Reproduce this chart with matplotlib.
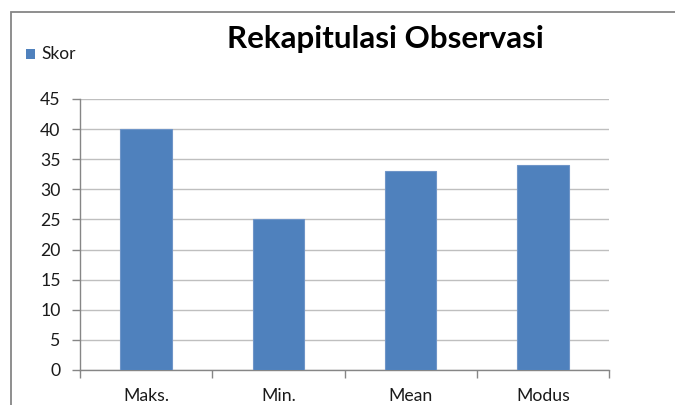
import matplotlib
matplotlib.use("Agg")
import matplotlib.pyplot as plt
from matplotlib.patches import Rectangle
import numpy as np

categories = ["Maks.", "Min.", "Mean", "Modus"]
skor = [40, 25, 33, 34]
yticks = [0, 5, 10, 15, 20, 25, 30, 35, 40, 45]
title = "Rekapitulasi Observasi"
series_name = "Skor"

plt.rcParams['font.family'] = ['Lato', 'DejaVu Sans']

fig = plt.figure(figsize=(6.75, 4.05), dpi=100)
fig.patch.set_facecolor("white")

# outer chart frame
frame = Rectangle((11/675, -0.1), 1.2, 1 - 12/405 + 0.1, transform=fig.transFigure,
                  fill=False, edgecolor="#868686", linewidth=1.3, clip_on=False)
fig.patches.append(frame)

ax = fig.add_axes([80/675, 1 - 370/405, (609 - 80)/675, (370 - 99)/405])
x = np.arange(len(categories))
ax.bar(x, skor, width=0.39, color="#4F81BD", edgecolor="#6F95C8", linewidth=0.8,
       zorder=3, label=series_name)

ax.set_xlim(-0.5, len(categories) - 0.5)
ax.set_ylim(0, 45)
ax.set_yticks(yticks)
ax.set_yticklabels([str(v) for v in yticks])
ax.yaxis.grid(True, color="#BFBFBF", linewidth=1.0, zorder=0)
ax.set_axisbelow(True)

ax.set_xticks(x)
ax.set_xticklabels(categories)
ax.set_xticks(np.arange(len(categories) + 1) - 0.5, minor=True)
ax.tick_params(axis="x", which="major", length=0, pad=13, labelsize=12.7, colors="#1a1a1a")
ax.tick_params(axis="x", which="minor", length=6, width=1.0, color="#868686", direction="out")
ax.tick_params(axis="y", which="major", length=6, width=1.0, color="#868686", direction="out",
               labelsize=12.7, labelcolor="#1a1a1a", pad=8)

for s in ["top", "right"]:
    ax.spines[s].set_visible(False)
for s in ["left", "bottom"]:
    ax.spines[s].set_color("#868686")
    ax.spines[s].set_linewidth(1.0)

fig.text(385/675, 1 - 39/405, title, ha="center", va="center", fontsize=22.5, fontweight="bold")

# legend
fig.patches.append(Rectangle((26/675, 1 - 59/405), 9/675, 10/405, transform=fig.transFigure,
                             facecolor="#4F81BD", edgecolor="none"))
fig.text(41/675, 1 - 54/405, series_name, ha="left", va="center", fontsize=12.5, color="#1a1a1a")

fig.savefig("out.png", dpi=100, facecolor="white")
